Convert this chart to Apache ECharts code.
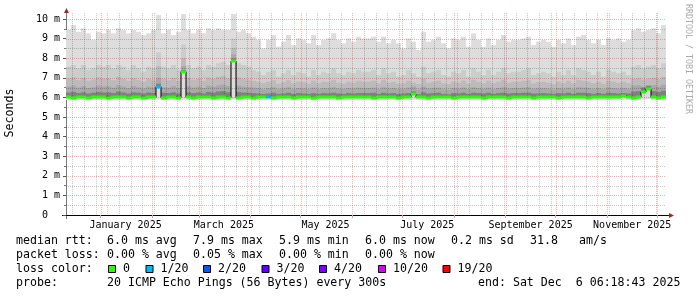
<!DOCTYPE html>
<html><head><meta charset="utf-8">
<script src="https://cdn.jsdelivr.net/npm/echarts@6/dist/echarts.min.js"></script>
<style>html,body{margin:0;padding:0;background:#fff}#c{width:697px;height:297px}</style>
</head><body><div id="c"></div>
<script>
// ---- data (ms), one value per 3-day column, 360 days ----
const maxRtt = [9.44,9.69,9.35,9.52,9.27,8.93,9.35,9.27,9.44,9.27,9.52,9.44,9.27,9.44,9.35,9.18,9.27,9.44,10.2,9.27,9.44,9.18,9.35,10.25,9.44,9.27,9.44,9.27,9.52,9.44,
9.52,9.44,9.44,10.25,9.35,9.44,9.27,9.10,8.93,8.50,8.93,9.18,8.59,8.84,9.18,8.67,9.01,8.93,8.76,9.18,8.67,8.93,9.01,9.27,8.93,8.76,9.01,8.84,9.10,9.01,
9.01,9.10,8.84,9.10,8.76,8.93,8.76,8.50,9.01,8.84,8.42,9.35,8.84,8.93,9.10,8.76,8.50,9.01,8.93,9.10,8.59,9.27,8.93,8.59,9.01,8.67,8.93,9.18,8.84,8.93,
8.93,9.01,9.10,8.67,8.84,8.93,8.84,8.59,8.93,8.76,9.01,8.67,9.10,9.18,8.93,8.76,8.93,8.67,9.01,8.93,9.01,8.84,8.93,9.44,9.52,9.35,9.44,9.52,9.27,9.69];
const band2 = [7.57,7.65,7.48,7.65,7.40,7.48,7.65,7.57,7.65,7.48,7.65,7.57,7.40,7.65,7.48,7.31,7.57,7.48,8.30,7.57,7.48,7.65,7.40,8.70,7.65,7.48,7.57,7.40,7.65,7.57,
7.74,7.82,7.65,9.00,7.74,7.65,7.57,7.40,7.31,7.14,7.31,7.40,7.06,7.23,7.40,7.14,7.31,7.23,7.06,7.40,7.14,7.31,7.23,7.48,7.23,7.14,7.31,7.23,7.40,7.31,
7.31,7.40,7.14,7.48,7.23,7.31,7.06,7.14,7.40,7.23,7.06,7.57,7.23,7.31,7.40,7.14,7.06,7.31,7.23,7.40,7.06,7.48,7.31,7.14,7.40,7.14,7.31,7.48,7.23,7.31,
7.31,7.40,7.48,7.14,7.23,7.31,7.23,7.06,7.31,7.14,7.40,7.14,7.48,7.40,7.31,7.14,7.31,7.06,7.40,7.31,7.23,7.31,7.14,7.57,7.65,7.48,7.57,7.65,7.48,7.74];
const band3 = [6.95,7.02,6.88,6.98,6.85,6.92,7.02,6.95,6.98,6.88,7.05,6.95,6.85,6.98,6.90,6.80,6.95,6.88,7.60,6.95,6.88,7.00,6.85,8.00,7.00,6.90,6.95,6.85,7.02,6.95,
7.05,7.10,6.98,8.50,7.02,6.95,6.90,6.85,6.80,6.72,6.80,6.88,6.70,6.78,6.88,6.72,6.80,6.78,6.70,6.85,6.72,6.80,6.78,6.90,6.75,6.70,6.80,6.75,6.85,6.80,
6.80,6.85,6.72,6.90,6.75,6.80,6.70,6.72,6.85,6.75,6.68,6.95,6.75,6.80,6.85,6.72,6.68,6.80,6.75,6.85,6.70,6.90,6.80,6.72,6.85,6.72,6.80,6.90,6.75,6.80,
6.80,6.85,6.88,6.72,6.78,6.80,6.75,6.68,6.80,6.72,6.85,6.72,6.90,6.85,6.80,6.72,6.80,6.70,6.85,6.80,6.75,6.80,6.72,6.95,7.00,6.90,6.95,7.00,6.92,7.05];
const band4 = [6.55,6.60,6.50,6.58,6.48,6.52,6.60,6.55,6.58,6.50,6.62,6.55,6.48,6.58,6.52,6.45,6.55,6.50,7.00,6.52,6.50,6.58,6.48,7.60,6.58,6.50,6.55,6.48,6.60,6.55,
6.62,6.65,6.58,8.20,6.60,6.55,6.52,6.50,6.48,6.42,6.48,6.52,6.42,6.46,6.52,6.42,6.48,6.46,6.42,6.50,6.42,6.48,6.46,6.52,6.45,6.42,6.48,6.45,6.50,6.48,
6.48,6.50,6.42,6.52,6.45,6.48,6.42,6.44,6.50,6.55,6.40,6.55,6.45,6.48,6.50,6.42,6.40,6.48,6.45,6.50,6.42,6.52,6.48,6.44,6.50,6.42,6.48,6.52,6.45,6.48,
6.48,6.50,6.52,6.44,6.46,6.48,6.45,6.40,6.48,6.44,6.50,6.42,6.52,6.50,6.48,6.42,6.48,6.42,6.50,6.48,6.45,6.48,6.44,6.60,6.62,6.55,6.58,6.62,6.55,6.65];
const band5 = [6.25,6.28,6.22,6.26,6.20,6.24,6.28,6.25,6.26,6.22,6.30,6.25,6.20,6.26,6.24,6.20,6.25,6.22,6.70,6.24,6.22,6.26,6.20,7.40,6.26,6.22,6.25,6.20,6.28,6.25,
6.30,6.32,6.26,8.00,6.28,6.25,6.24,6.22,6.20,6.18,6.20,6.24,6.18,6.20,6.24,6.18,6.22,6.20,6.18,6.22,6.18,6.22,6.20,6.24,6.20,6.18,6.22,6.20,6.22,6.22,
6.22,6.24,6.18,6.24,6.20,6.22,6.18,6.20,6.22,6.30,6.16,6.26,6.20,6.22,6.24,6.18,6.16,6.22,6.20,6.24,6.18,6.24,6.22,6.20,6.24,6.18,6.22,6.24,6.20,6.22,
6.22,6.24,6.24,6.20,6.20,6.22,6.20,6.18,6.22,6.20,6.24,6.18,6.24,6.24,6.22,6.18,6.22,6.18,6.24,6.22,6.20,6.22,6.20,6.30,6.32,6.50,6.60,6.32,6.28,6.34];
const minRtt = [5.87,5.86,5.87,5.87,5.86,5.87,5.87,5.88,5.86,5.87,5.87,5.87,5.86,5.87,5.88,5.86,5.87,5.87,5.88,5.86,5.87,5.87,5.86,5.88,5.87,5.86,5.87,5.87,5.87,5.86,
5.87,5.87,5.86,5.88,5.86,5.87,5.87,5.86,5.87,5.87,5.87,5.86,5.87,5.87,5.87,5.86,5.87,5.87,5.87,5.86,5.87,5.87,5.87,5.87,5.86,5.87,5.87,5.87,5.87,5.87,
5.87,5.86,5.87,5.87,5.87,5.87,5.86,5.87,5.87,5.88,5.87,5.87,5.86,5.87,5.87,5.87,5.87,5.86,5.87,5.87,5.87,5.87,5.87,5.86,5.87,5.87,5.87,5.87,5.86,5.87,
5.88,5.87,5.87,5.86,5.87,5.87,5.87,5.87,5.86,5.87,5.87,5.88,5.87,5.87,5.86,5.87,5.87,5.87,5.87,5.87,5.88,5.88,5.87,5.86,5.87,5.90,5.92,5.87,5.86,5.87];
const medianRtt = [6.00,5.98,6.02,6.00,5.97,6.03,6.00,6.02,5.98,6.00,6.03,6.00,5.98,6.00,6.02,5.97,6.00,6.00,6.55,5.98,6.00,6.02,5.98,7.32,6.00,5.98,6.02,6.00,6.00,5.98,
6.00,6.02,5.98,7.85,5.98,6.00,6.02,5.98,6.00,6.00,6.00,5.98,6.00,6.02,6.00,5.98,6.00,6.00,6.02,5.98,6.00,6.00,6.02,6.00,5.98,6.00,6.00,6.02,6.00,6.00,
6.00,5.98,6.00,6.02,6.00,6.00,5.98,6.00,6.02,6.15,6.00,6.00,5.98,6.00,6.00,6.02,6.00,5.98,6.00,6.00,6.02,6.00,6.00,5.98,6.00,6.02,6.00,6.00,5.98,6.00,
6.04,6.00,6.00,5.98,6.02,6.00,6.02,6.00,5.98,6.00,6.00,6.03,6.00,6.00,5.98,6.02,6.00,6.00,6.02,6.00,6.04,6.08,6.00,5.98,6.00,6.28,6.42,6.00,5.98,6.00];
// loss bucket index per column (0 = 0/20, 1 = 1/20 ...)
const lossIdx = [0,0,0,0,0,0,0,0,0,0,0,0,0,0,0,0,0,0,1,0,0,0,0,0,0,0,0,0,0,0,
0,0,0,0,0,0,0,0,0,0,1,0,0,0,0,0,0,0,0,0,0,0,0,0,0,0,0,0,0,0,
0,0,0,0,0,0,0,0,0,0,0,0,0,0,0,0,0,0,0,0,0,0,0,0,0,0,0,0,0,0,
0,0,0,0,0,0,0,0,0,0,0,0,0,0,0,0,0,0,0,0,0,0,0,0,0,0,0,0,0,0];

const lossLabels = ['0','1/20','2/20','3/20','4/20','10/20','19/20'];
const lossColors = ['#26ff00','#00b8ff','#0059ff','#5e00ff','#7e00ff','#dd00ff','#ff0000'];
const yTickLabels = ['0  ','1 m','2 m','3 m','4 m','5 m','6 m','7 m','8 m','9 m','10 m'];
const monthLabels = ['January 2025','March 2025','May 2025','July 2025','September 2025','November 2025'];
const monthLabelDates = [[2025,0,16],[2025,2,16],[2025,4,16],[2025,6,16],[2025,8,16],[2025,10,16]];
const rttStats = ['6.0 ms avg','7.9 ms max','5.9 ms min','6.0 ms now','0.2 ms sd','31.8','am/s'];
const lossStats = ['0.00 % avg','0.05 % max','0.00 % min','0.00 % now'];
const probeText = '20 ICMP Echo Pings (56 Bytes) every 300s';
const endText = 'end: Sat Dec  6 06:18:43 2025';

// ---- time frame ----
const START = Date.UTC(2024, 11, 11, 6, 18, 43);
const END = Date.UTC(2025, 11, 6, 6, 18, 43);
const N = maxRtt.length;
const colDur = (END - START) / N;
const DAY = 86400000;

const smokeColors = ['#dddddd','#cccccc','#bbbbbb','#a8a8a8','#808080'];
const MONO = '"DejaVu Sans Mono", "Liberation Mono", monospace';

const smokeData = maxRtt.map((v, i) => [START + i * colDur, minRtt[i], v, band2[i], band3[i], band4[i], band5[i], medianRtt[i]]);
const medData = medianRtt.map((v, i) => [START + i * colDur, v, lossIdx[i]]);
const medLine = medianRtt.map((v, i) => [START + i * colDur, v]);
medLine.push([END, medianRtt[N - 1]]);

// grid lines
const monthStarts = [];
for (let m = 0; m < 12; m++) { const t = Date.UTC(2025, m, 1); if (t > START && t < END) monthStarts.push(t); }
const vGrid = [];
for (let t = Date.UTC(2024, 11, 15); t < END; t += 7 * DAY) { if (monthStarts.indexOf(t) < 0) vGrid.push([t, 0]); }
monthStarts.forEach(t => vGrid.push([t, 1]));
const hGrid = [];
for (let k = 1; k <= 20; k++) hGrid.push([k / 2, k % 2 === 0 ? 1 : 0]);
const labelTs = monthLabelDates.map(d => Date.UTC(d[0], d[1], d[2]));

const MAJOR = 'rgba(235,40,40,0.38)', MINOR = 'rgba(0,0,0,0.22)';

const chart = echarts.init(document.getElementById('c'), null, {renderer: 'canvas'});

function smokeItem(params, api) {
  const t0 = api.value(0), t1 = t0 + colDur;
  const x0 = Math.round(api.coord([t0, 0])[0]);
  const x1 = Math.round(api.coord([t1, 0])[0]);
  const y = v => api.coord([t0, v])[1];
  const med = api.value(7);
  const children = [];
  for (let k = 0; k < 5; k++) {
    const top = api.value(2 + k);
    const bottom = k === 0 ? api.value(1) : med;
    const yt = y(top), yb = y(bottom);
    children.push({type: 'rect', shape: {x: x0, y: yt, width: x1 - x0, height: yb - yt}, style: {fill: smokeColors[k]}});
  }
  return {type: 'group', children};
}
function medItem(params, api) {
  const t0 = api.value(0);
  const x0 = Math.round(api.coord([t0, 0])[0]);
  const x1 = Math.round(api.coord([t0 + colDur, 0])[0]);
  const yc = api.coord([t0, api.value(1)])[1];
  return {type: 'rect', shape: {x: x0, y: Math.round(yc) - 1.5, width: x1 - x0, height: 3}, style: {fill: lossColors[api.value(2)]}};
}
function vGridItem(params, api) {
  const t = api.value(0);
  const x = Math.round(api.coord([t, 0])[0]) + 0.5;
  const yb = api.coord([t, 0])[1], yt = api.coord([t, 10.3])[1];
  return {type: 'line', shape: {x1: x, y1: yt, x2: x, y2: yb}, style: {stroke: api.value(1) ? MAJOR : MINOR, lineWidth: 1, lineDash: [1, 1]}};
}
function hGridItem(params, api) {
  const v = api.value(0);
  const p0 = api.coord([START, v]), p1 = api.coord([END, v]);
  const y = Math.round(p0[1]) + 0.5;
  return {type: 'line', shape: {x1: p0[0], y1: y, x2: p1[0], y2: y}, style: {stroke: api.value(1) ? MAJOR : MINOR, lineWidth: 1, lineDash: [1, 1]}};
}

// legend graphics
const graphics = [];
const txt = (x, y, s, extra) => graphics.push(Object.assign({type: 'text', x, y, silent: true,
  style: {text: s, font: '11.6px ' + MONO, fill: '#000', verticalAlign: 'middle', align: 'left'}}, extra || {}));
const statX = [107, 193, 279, 365, 451, 530, 579];
txt(16, 241, 'median rtt:');
rttStats.forEach((s, i) => txt(statX[i], 241, s));
txt(16, 255, 'packet loss:');
lossStats.forEach((s, i) => txt(statX[i], 255, s));
txt(16, 269, 'loss color:');
const sqX = [108, 145.5, 203, 261.5, 319, 378, 442.5];
lossLabels.forEach((s, i) => {
  graphics.push({type: 'rect', silent: true, shape: {x: sqX[i] + 0.5, y: 265.5, width: 7, height: 7}, style: {fill: lossColors[i], stroke: '#000', lineWidth: 1}});
  txt(sqX[i] + 15, 269, s);
});
txt(16, 283, 'probe:');
txt(107, 283, probeText);
txt(478, 283, endText);
// axis title and watermark
graphics.push({type: 'text', x: 10, y: 113, rotation: Math.PI / 2, silent: true,
  style: {text: 'Seconds', font: '11.6px ' + MONO, fill: '#000', align: 'center', verticalAlign: 'middle'}});
graphics.push({type: 'text', x: 688, y: 59, rotation: -Math.PI / 2, silent: true,
  style: {text: 'RRDTOOL / TOBI OETIKER', font: '8.3px ' + MONO, fill: '#aaaaaa', align: 'center', verticalAlign: 'middle'}});
// axis lines with arrows
graphics.push({type: 'line', silent: true, shape: {x1: 66.5, y1: 219, x2: 66.5, y2: 12}, style: {stroke: '#7a7a7a', lineWidth: 1}});
graphics.push({type: 'line', silent: true, shape: {x1: 62, y1: 215.5, x2: 670, y2: 215.5}, style: {stroke: '#000', lineWidth: 1}});
graphics.push({type: 'polygon', silent: true, shape: {points: [[64, 13], [69, 13], [66.5, 8]]}, style: {fill: '#a02828'}});
graphics.push({type: 'polygon', silent: true, shape: {points: [[669, 213], [669, 218], [674, 215.5]]}, style: {fill: '#a02828'}});

chart.setOption({
  animation: false,
  backgroundColor: '#ffffff',
  grid: {left: 66, top: 19, right: 31, bottom: 82, containLabel: false},
  xAxis: {
    type: 'value', min: START, max: END,
    axisLine: {show: false},
    splitLine: {show: false},
    axisTick: {show: true, customValues: monthStarts, length: 3, lineStyle: {color: '#e69a9a'}},
    axisLabel: {
      customValues: labelTs, margin: 5,
      fontFamily: MONO, fontSize: 10, color: '#000',
      formatter: v => { const i = labelTs.indexOf(v); return i >= 0 ? monthLabels[i] : ''; }
    }
  },
  yAxis: {
    type: 'value', min: 0, max: 10, interval: 1,
    axisLine: {show: false},
    splitLine: {show: false},
    axisTick: {show: true, length: 3, lineStyle: {color: '#555'}},
    minorTick: {show: true, splitNumber: 2, length: 2, lineStyle: {color: '#777'}},
    axisLabel: {margin: 6, fontFamily: MONO, fontSize: 10, color: '#000', formatter: v => yTickLabels[Math.round(v)]}
  },
  series: [
    {type: 'custom', name: 'smoke', renderItem: smokeItem, data: smokeData, encode: {x: 0, y: 2}, clip: false, z: 1, silent: true},
    {type: 'custom', name: 'vgrid', renderItem: vGridItem, data: vGrid, encode: {x: 0}, z: 2, silent: true},
    {type: 'custom', name: 'hgrid', renderItem: hGridItem, data: hGrid, encode: {y: 0}, z: 2, silent: true},
    {type: 'line', name: 'median', data: medLine, step: 'end', symbol: 'none', lineStyle: {color: '#000', width: 1}, z: 3, silent: true},
    {type: 'custom', name: 'median loss', renderItem: medItem, data: medData, encode: {x: 0, y: 1}, z: 4, silent: true}
  ],
  graphic: graphics
});
</script></body></html>
